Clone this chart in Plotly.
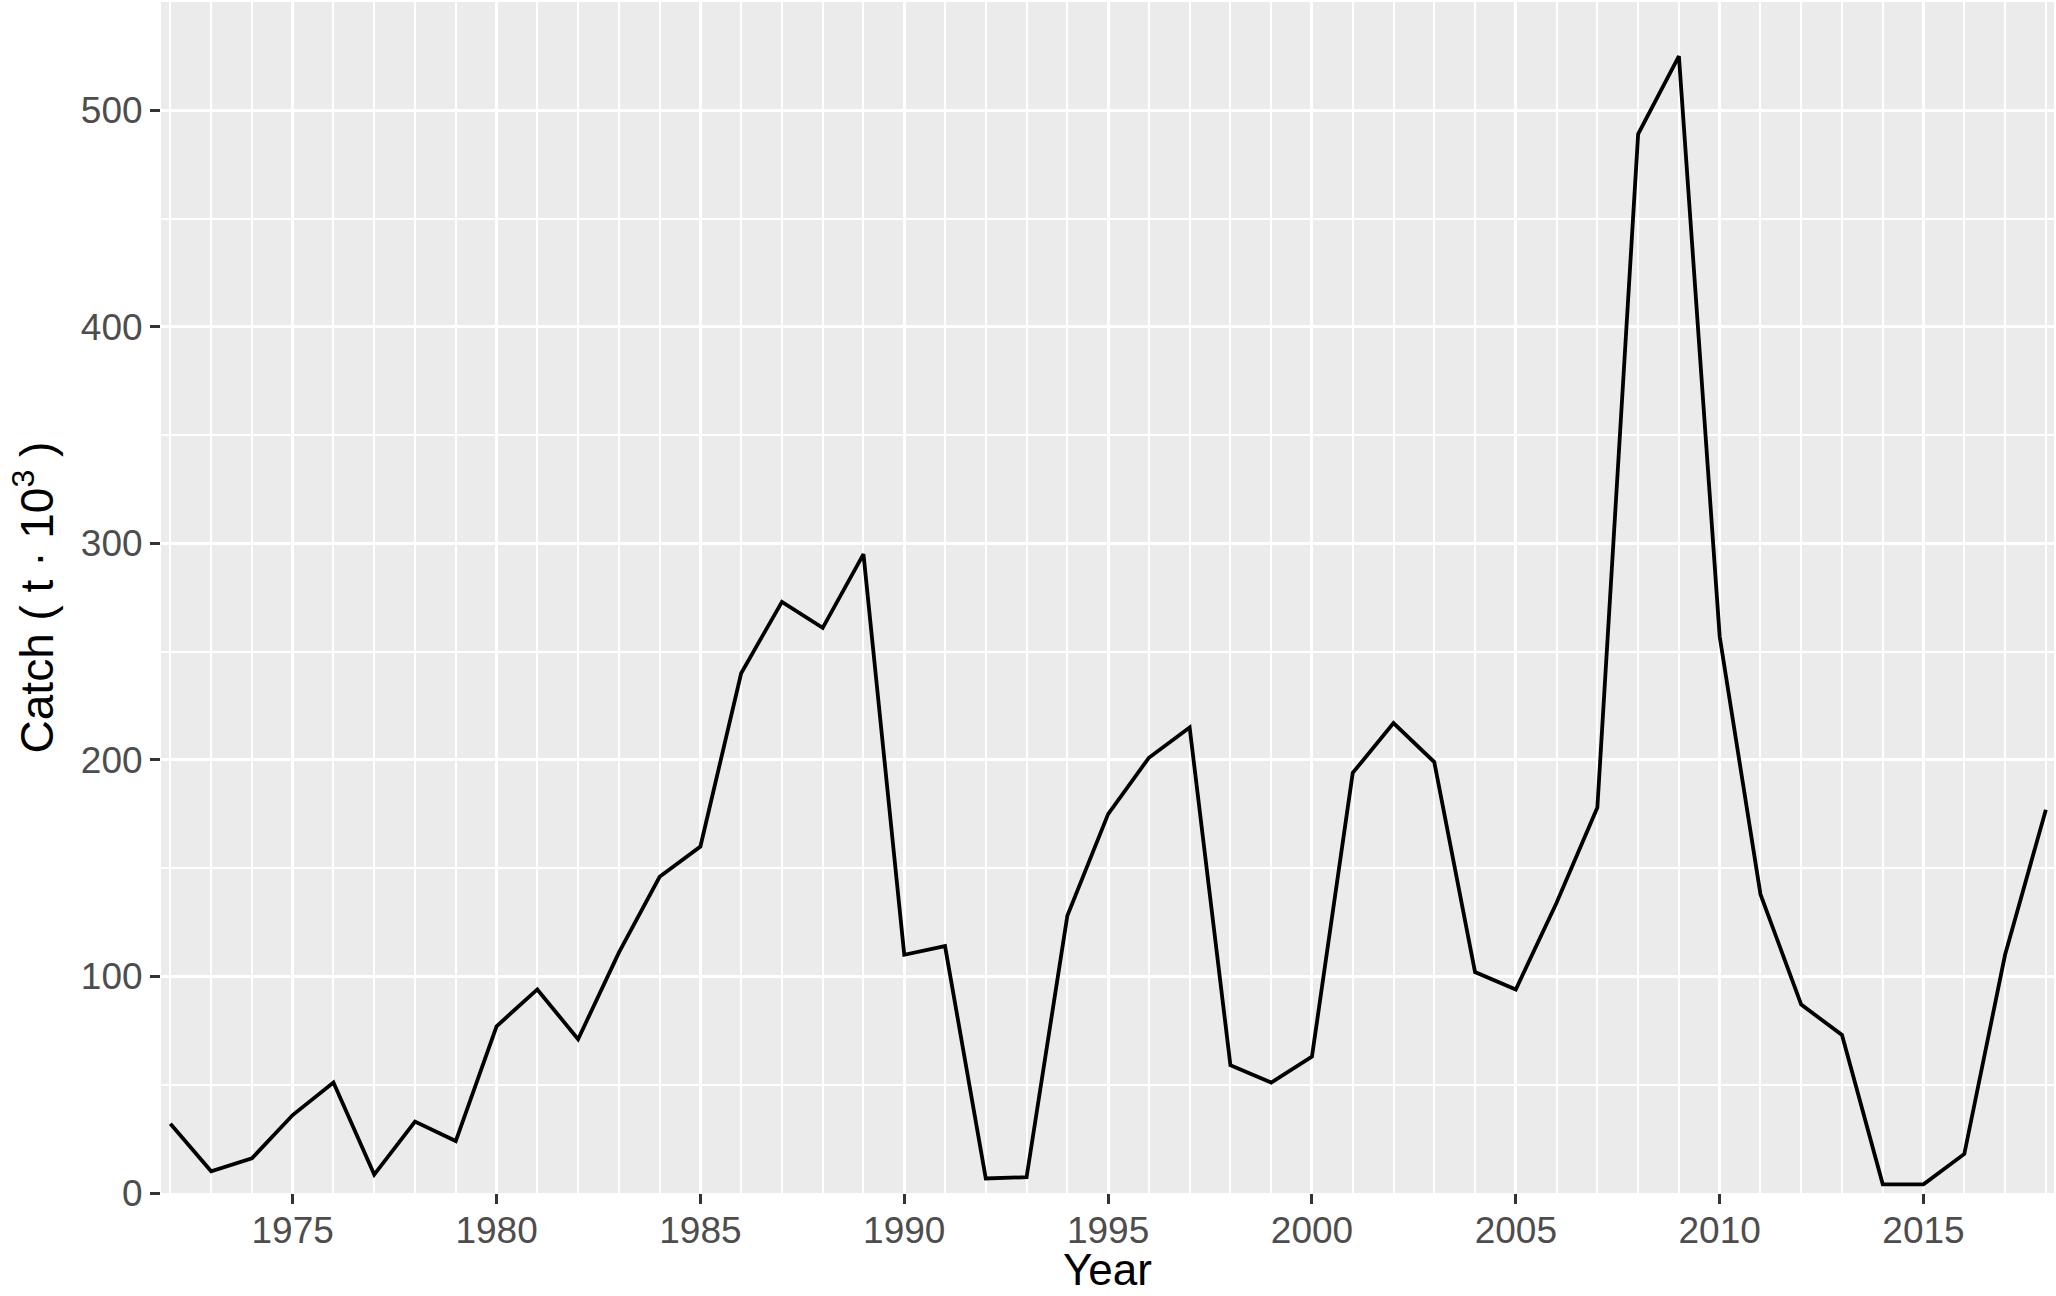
import plotly.graph_objects as go

years = list(range(1972, 2019))
catch = [32, 10, 16, 36, 51, 8.5, 33, 24, 77, 94,
         71, 111, 146, 160, 240, 273, 261, 295, 110, 114,
         6.7, 7.3, 128, 175, 201, 215, 59, 51, 63, 194,
         217, 199, 102, 94, 134, 178, 489, 525, 257, 138,
         87, 73, 4, 4, 18, 110, 177]

x_ticks = [1975, 1980, 1985, 1990, 1995, 2000, 2005, 2010, 2015]
y_ticks = [0, 100, 200, 300, 400, 500]

fig = go.Figure()
fig.add_trace(go.Scatter(x=years, y=catch, mode="lines",
                         line=dict(color="black", width=3.8), showlegend=False))

tickfont = dict(family="Liberation Sans, Arial, sans-serif", size=37, color="#4D4D4D")
titlefont = dict(family="Liberation Sans, Arial, sans-serif", size=46, color="black")
xtitlefont = dict(family="Liberation Sans, Arial, sans-serif", size=44, color="black")

fig.update_layout(
    width=2056, height=1296,
    margin=dict(l=161, r=2, t=2, b=103),
    paper_bgcolor="white", plot_bgcolor="#EBEBEB",
    xaxis=dict(range=[1971.77, 2018.2], tickvals=x_ticks, ticktext=[str(v) for v in x_ticks],
               ticks="outside", ticklen=10, tickwidth=3, tickcolor="#333333",
               showgrid=True, gridcolor="white", gridwidth=3.2,
               minor=dict(dtick=1, tick0=1972, showgrid=True, gridcolor="white", gridwidth=1.6, ticks=""),
               zeroline=False, showline=False, tickfont=tickfont, automargin=False,
               ticklabelstandoff=-5),
    yaxis=dict(range=[0, 550], tickvals=y_ticks, ticktext=[str(v) for v in y_ticks],
               ticks="outside", ticklen=10, tickwidth=3, tickcolor="#333333",
               showgrid=True, gridcolor="white", gridwidth=3.2,
               minor=dict(dtick=50, tick0=0, showgrid=True, gridcolor="white", gridwidth=1.6, ticks=""),
               zeroline=False, showline=False, tickfont=tickfont, automargin=False,
               title=dict(text="Catch ( t · 10<sup>3</sup> )", font=titlefont, standoff=12)),
    annotations=[dict(text="Year", xref="paper", yref="paper", x=0.5, y=0,
                      xanchor="center", yanchor="top", yshift=-50, showarrow=False,
                      font=xtitlefont)],
)

fig.write_html("out.html", config={"displayModeBar": False},
               post_script="document.body.style.margin='0';document.body.style.padding='0';")
